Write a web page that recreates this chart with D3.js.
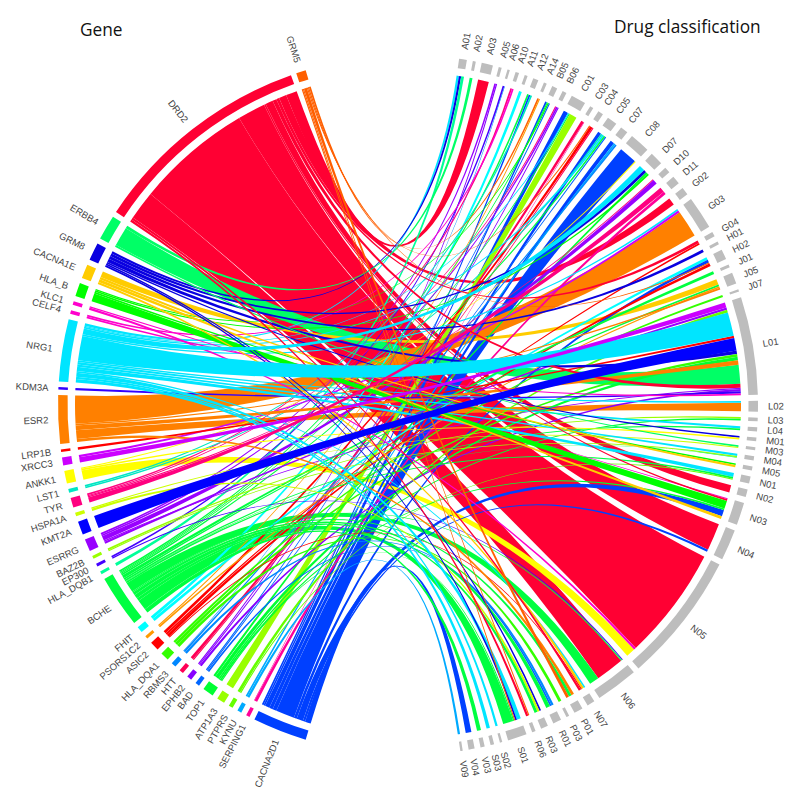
<!DOCTYPE html>
<html><head><meta charset="utf-8">
<script src="https://cdn.jsdelivr.net/npm/d3@7"></script>
<style>html,body{margin:0;background:#fff}svg{display:block}</style>
</head><body><svg id="c" width="800" height="803"></svg>
<script>
const genes = ["GRM5","DRD2","ERBB4","GRM8","CACNA1E","HLA_B","KLC1","CELF4","NRG1","KDM3A","ESR2","LRP1B","XRCC3","ANKK1","LST1","TYR","HSPA1A","KMT2A","ESRRG","BAZ2B","EP300","HLA_DQB1","BCHE","FHIT","PSORS1C2","ASIC2","HLA_DQA1","RBMS3","HTT","EPHB2","BAD","TOP1","ATP1A3","PTPRS","KYNU","SERPING1","CACNA2D1"];
const geneColors = ["#ff5f00","#ff0033","#00ff66","#0a00e0","#ffcc00","#00ff00","#ff00cc","#ff00cc","#00e5ff","#3300ff","#ff8000","#ff0000","#cc00ff","#ffff00","#00e6c3","#ff0080","#ccff00","#0000ff","#9900ff","#99ff00","#4400ff","#00ff99","#00ff40","#00ffff","#ff9900","#ff0000","#33ff00","#0088ff","#ff0055","#8800ff","#0066ff","#00ff33","#99ff00","#66ff00","#00aaff","#ff0099","#0040ff"];
const drugs = ["A01","A02","A03","A05","A06","A10","A11","A12","A14","B05","B06","C01","C03","C04","C05","C07","C08","D07","D10","D11","G02","G03","G04","H01","H02","J01","J05","J07","L01","L02","L03","L04","M01","M03","M04","M05","N01","N02","N03","N04","N05","N06","N07","P01","P03","R01","R03","R06","S01","S02","S03","V03","V04","V09"];
const links = [
["A01","NRG1",4],["A01","GRM8",4],["A01","HLA_DQB1",5],
["A02","ERBB4",5],
["A03","DRD2",19],
["A05","ESRRG",3],["A05","EPHB2",2],
["A06","EP300",3],["A06","RBMS3",1],
["A10","TYR",3],["A10","CELF4",3],
["A11","FHIT",5],
["A12","BCHE",3],["A12","CACNA2D1",3],["A12","LST1",3],
["A14","GRM5",3],["A14","PSORS1C2",2],
["B05","CACNA2D1",3],["B05","BCHE",2],["B05","HLA_B",2],["B05","BAD",2],
["B06","TYR",2],["B06","ESRRG",3],["B06","EPHB2",2],
["C01","CACNA2D1",8],["C01","NRG1",2],["C01","BCHE",2],["C01","ATP1A3",13],
["C03","HTT",5],["C03","SERPING1",1],
["C04","GRM5",2],["C04","ASIC2",5],["C04","HTT",2],
["C05","CACNA2D1",6],["C05","LST1",3],["C05","NRG1",3],["C05","BCHE",3],["C05","BAD",2],
["C07","CACNA2D1",7],["C07","KYNU",3],["C07","RBMS3",3],
["C08","CACNA2D1",32],["C08","ANKK1",2],
["D07","NRG1",10],["D07","GRM8",5],["D07","TOP1",4],["D07","HLA_B",3],
["D10","TYR",2],["D10","ESRRG",8],
["D11","TYR",9],["D11","SERPING1",5],
["G02","DRD2",13],
["G03","NRG1",3],["G03","XRCC3",4],["G03","ESR2",48],
["G04","DRD2",5],["G04","ASIC2",3],
["H01","GRM8",5],
["H02","FHIT",5],["H02","CACNA2D1",5],["H02","GRM5",2],["H02","ASIC2",5],
["J01","BCHE",5],
["J05","CACNA1E",10],["J05","BCHE",3],["J05","PSORS1C2",3],["J05","ESR2",3],
["J07","HLA_DQA1",4],
["L01","XRCC3",9],["L01","ESRRG",4],["L01","PTPRS",5],["L01","NRG1",42],["L01","LRP1B",4],["L01","KMT2A",22],["L01","GRM8",6],["L01","HLA_DQA1",5],["L01","TOP1",6],["L01","ESR2",8],["L01","ERBB4",33],["L01","DRD2",7],["L01","ESRRG",2],["L01","EPHB2",4],["L01","KDM3A",4],["L01","CELF4",3],
["L02","NRG1",3],["L02","ESR2",15],
["L03","BAZ2B",3],["L03","TOP1",3],
["L04","NRG1",4],["L04","BCHE",3],
["M01","GRM8",3],["M01","ANKK1",3],
["M03","ERBB4",3],["M03","HSPA1A",2],
["M04","NRG1",4],["M04","BAZ2B",2],["M04","BCHE",1],
["M05","HLA_B",3],["M05","CACNA1E",4],
["N01","NRG1",7],["N01","BCHE",3],["N01","PTPRS",2],
["N02","DRD2",13],
["N03","KLC1",2],["N03","DRD2",3],["N03","HLA_B",14],["N03","TOP1",3],["N03","CACNA2D1",11],["N03","CACNA1E",5],
["N04","DRD2",48],["N04","CACNA2D1",4],
["N05","DRD2",199],["N05","KLC1",4],["N05","ANKK1",16],
["N06","EP300",2],["N06","BCHE",2],["N06","DRD2",50],["N06","BCHE",17],
["N07","NRG1",3],["N07","CACNA1E",4],["N07","ASIC2",2],["N07","DRD2",4],
["P01","ESR2",5],["P01","BCHE",5],["P01","GRM5",5],
["P03","HLA_DQA1",5],
["R01","RBMS3",4],["R01","BAD",3],["R01","BCHE",7],
["R03","GRM8",3],["R03","HSPA1A",4],["R03","BCHE",5],
["R06","GRM5",2],["R06","DRD2",4],
["S01","NRG1",7],["S01","GRM8",3],["S01","GRM5",2],["S01","TOP1",2],["S01","BCHE",18],
["S02","NRG1",4],
["S03","NRG1",6],
["V03","BCHE",7],
["V04","CACNA2D1",10],
["V09","KYNU",4]
];
const drawFirst = ["DRD2","CACNA2D1","ERBB4","ESR2","CACNA1E","ANKK1","BCHE"];
const drawLast = ["NRG1","KMT2A","XRCC3","TYR"];
const titleLeft = "Gene", titleRight = "Drug classification";

const W=800,H=803,cx=408,cy=405,rOuter=350,rInner=340.5,rChord=333,rLabel=360;
const rad=d=>d*Math.PI/180;
const svg=d3.select("#c");
const g=svg.append("g").attr("transform",`translate(${cx},${cy})`);

const geneTotal=d3.rollup(links,v=>d3.sum(v,d=>d[2]),d=>d[1]);
const drugTotal=d3.rollup(links,v=>d3.sum(v,d=>d[2]),d=>d[0]);

function layout(names,totals,gapUnits,a0,a1){
  const total=d3.sum(names,n=>totals.get(n)||0)+gapUnits*(names.length-1);
  const s=d3.scaleLinear().domain([0,total]).range([rad(a0),rad(a1)]);
  const out=new Map();let p=0;
  for(const n of names){const v=totals.get(n)||0;out.set(n,{name:n,p0:p,p1:p+v,scale:s,cursor:p});p+=v+gapUnits;}
  return out;
}
const geneSec=layout(genes.slice().reverse(),geneTotal,9,197,343);
const drugSec=layout(drugs,drugTotal,10,8.4,171.4);

const drugIndex=new Map(drugs.map((d,i)=>[d,i]));
const color=d3.scaleOrdinal(genes,geneColors);

const ends=links.map(([d,ge,v],i)=>({d,ge,v,i}));
for(const e of ends){const s=drugSec.get(e.d);e.target={startAngle:s.scale(s.cursor),endAngle:s.scale(s.cursor+e.v)};s.cursor+=e.v;}
for(const e of ends.slice().sort((a,b)=>drugIndex.get(b.d)-drugIndex.get(a.d)||a.i-b.i)){const s=geneSec.get(e.ge);e.source={startAngle:s.scale(s.cursor),endAngle:s.scale(s.cursor+e.v)};s.cursor+=e.v;}

const tier=e=>{const f=drawFirst.indexOf(e.ge);if(f>=0&&e.v>=10)return f;if(drawLast.includes(e.ge)&&e.v>=9)return 20+drawLast.indexOf(e.ge);return 10;};
const ribbon=d3.ribbon().radius(rChord);
const order=ends.slice().sort((a,b)=>tier(a)-tier(b)||a.i-b.i);
g.append("g").selectAll("path").data(order).join("path")
 .attr("d",e=>ribbon({source:e.source,target:e.target}))
 .attr("fill",e=>color(e.ge));

const arc=d3.arc().innerRadius(rInner).outerRadius(rOuter);
function ring(secs,fill){
  g.append("g").selectAll("path").data([...secs.values()]).join("path")
   .attr("d",s=>arc({startAngle:s.scale(s.p0),endAngle:s.scale(s.p1)}))
   .attr("fill",fill);
  g.append("g").selectAll("text").data([...secs.values()]).join("text")
   .attr("transform",s=>{const a=(s.scale(s.p0)+s.scale(s.p1))/2*180/Math.PI;
      return a<180?`rotate(${a-90}) translate(${rLabel},0)`:`rotate(${a-90}) translate(${rLabel},0) rotate(180)`;})
   .attr("text-anchor",s=>(s.scale(s.p0)+s.scale(s.p1))/2<Math.PI?"start":"end")
   .attr("dy","0.35em").attr("font-family","'Liberation Sans',sans-serif").attr("font-size",9.5).attr("fill","#444")
   .text(s=>s.name);
}
ring(geneSec,s=>color(s.name));
ring(drugSec,"#bdbdbd");

svg.append("text").attr("x",80).attr("y",36).attr("font-family","'Open Sans',sans-serif").attr("font-size",17.3).attr("fill","#111").text(titleLeft);
svg.append("text").attr("x",614).attr("y",33).attr("font-family","'Open Sans',sans-serif").attr("font-size",17.3).attr("fill","#111").text(titleRight);
</script></body></html>
